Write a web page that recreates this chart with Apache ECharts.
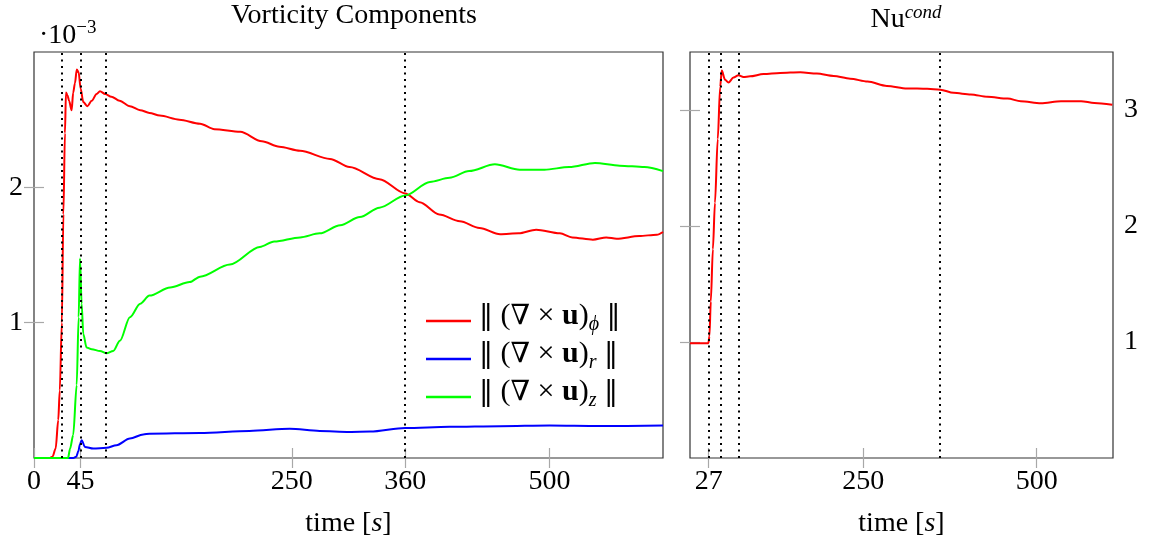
<!DOCTYPE html>
<html>
<head>
<meta charset="utf-8">
<script src="https://cdn.jsdelivr.net/npm/echarts@6/dist/echarts.min.js"></script>
<style>
  html, body { margin: 0; padding: 0; background: #fff; }
  #chart { width: 1155px; height: 544px; }
</style>
</head>
<body>
<div id="chart"></div>
<script>
// Vorticity component norms, in units of 1e-3, against time [s]
const phiTime = [0, 15, 18, 21, 23.5, 25, 27, 28.5, 30, 31, 32.5, 34, 36.5, 38, 39.7, 41.5, 43.3, 45.2, 47.8, 51.7, 56, 60.7, 64, 69, 75, 83, 93, 103, 112, 122, 141, 161, 175, 200, 221, 238, 258, 287, 306, 335, 360, 374, 393, 413, 432, 452, 470, 487, 510, 522, 542, 555, 565, 587, 604, 610];
const phiNorm = [0, 0, 0.01, 0.07, 0.28, 0.5, 1.0, 1.8, 2.4, 2.7, 2.68, 2.64, 2.57, 2.7, 2.77, 2.87, 2.85, 2.73, 2.63, 2.6, 2.64, 2.69, 2.71, 2.69, 2.67, 2.64, 2.6, 2.57, 2.55, 2.53, 2.5, 2.47, 2.43, 2.41, 2.34, 2.3, 2.27, 2.21, 2.15, 2.06, 1.955, 1.89, 1.8, 1.75, 1.7, 1.654, 1.66, 1.687, 1.66, 1.63, 1.613, 1.63, 1.62, 1.64, 1.65, 1.67];

const rTime = [0, 38, 41, 43, 44.5, 46.2, 49.4, 57.5, 70.4, 80, 93, 106, 112, 161, 209, 248, 277, 306, 326, 360, 403, 452, 500, 548, 610];
const rNorm = [0, 0, 0.01, 0.05, 0.1, 0.132, 0.082, 0.07, 0.075, 0.095, 0.144, 0.174, 0.18, 0.185, 0.2, 0.216, 0.2, 0.193, 0.195, 0.222, 0.23, 0.235, 0.24, 0.236, 0.24];

const zTime = [0, 33, 35, 38, 41.4, 43.3, 44.6, 46.2, 47.8, 51, 56, 64, 70.4, 76.8, 83.3, 93, 103, 112, 132, 151, 161, 190, 219, 233, 258, 277, 297, 316, 335, 360, 384, 403, 422, 447, 471, 495, 519, 544, 568, 592, 610];
const zNorm = [0, 0, 0.07, 0.17, 0.54, 1.04, 1.475, 1.14, 0.916, 0.816, 0.804, 0.79, 0.774, 0.79, 0.866, 1.04, 1.14, 1.2, 1.26, 1.3, 1.34, 1.43, 1.56, 1.6, 1.63, 1.66, 1.72, 1.78, 1.85, 1.94, 2.04, 2.07, 2.12, 2.17, 2.13, 2.13, 2.15, 2.18, 2.16, 2.15, 2.12];

// Conductive Nusselt number against time [s]
const nuTime = [0, 26.5, 28, 30, 33, 36, 40, 43.5, 45.8, 50.6, 55.4, 62.7, 69.9, 77, 86.7, 106, 130, 159, 183, 207, 231, 256, 284, 313, 342, 361, 380, 405, 429, 458, 477, 506, 535, 564, 583, 609];
const nuCond = [0.99, 0.99, 1.05, 1.35, 1.8, 2.2, 2.75, 3.2, 3.34, 3.26, 3.236, 3.28, 3.3, 3.285, 3.29, 3.31, 3.32, 3.325, 3.314, 3.294, 3.27, 3.245, 3.207, 3.186, 3.183, 3.175, 3.148, 3.134, 3.114, 3.099, 3.076, 3.058, 3.076, 3.076, 3.061, 3.046];

// Marked instants (dotted verticals) and axis ticks
const eventTimes = [27, 45, 70, 360];
const leftTicksX = [0, 45, 250, 360, 500];
const rightTicksX = [27, 250, 500];
const leftTicksY = [1, 2];
const rightTicksY = [1, 2, 3];

const FONT = '"Liberation Serif", "DejaVu Serif", serif';
const SYM_FONT = '"DejaVu Serif", serif';
const TICK_COLOR = '#a8a8a8';
const zip = (xs, ys) => xs.map((x, i) => [x, ys[i]]);

const legendSub = { omega_phi: 'ϕ', omega_r: 'r', omega_z: 'z' };

const tickStyle = vals => ({
  show: true, inside: true, length: 10, customValues: vals,
  lineStyle: { color: TICK_COLOR, width: 1.2 }
});

const xName = {
  name: '{n|time [}{i|s}{n|]}',
  nameLocation: 'middle',
  nameGap: 52,
  nameTextStyle: {
    rich: {
      n: { fontFamily: FONT, fontSize: 28, color: '#000' },
      i: { fontFamily: FONT, fontSize: 28, fontStyle: 'italic', color: '#000' }
    }
  }
};

function xAxisPair(grid, ticks) {
  const base = {
    type: 'value', gridIndex: grid, min: 0, max: 610,
    axisLine: { show: false }, splitLine: { show: false },
    axisTick: tickStyle(ticks)
  };
  return [
    Object.assign({}, base, xName, {
      position: 'bottom',
      axisLabel: { show: true, customValues: ticks, margin: 10, fontFamily: FONT, fontSize: 28, color: '#000', hideOverlap: false }
    }),
    Object.assign({}, base, {
      position: 'top',
      axisLabel: { show: false, customValues: ticks }
    })
  ];
}

function yAxisPair(grid, ticks, max, labelSide) {
  const base = {
    type: 'value', gridIndex: grid, min: 0, max: max,
    axisLine: { show: false }, splitLine: { show: false },
    axisTick: tickStyle(ticks)
  };
  const other = labelSide === 'left' ? 'right' : 'left';
  return [
    Object.assign({}, base, {
      position: labelSide,
      axisLabel: {
        show: true, customValues: ticks, margin: 11,
        align: labelSide === 'left' ? 'right' : 'left',
        fontFamily: FONT, fontSize: 28, color: '#000'
      }
    }),
    Object.assign({}, base, {
      position: other,
      axisLabel: { show: false, customValues: ticks }
    })
  ];
}

const markLines = {
  silent: true,
  symbol: ['none', 'none'],
  label: { show: false },
  lineStyle: { color: '#000', type: [2, 4.5], width: 2 },
  data: eventTimes.map(t => ({ xAxis: t }))
};

const lineSeries = (name, data, color, xi, yi, extra) => Object.assign({
  name: name, type: 'line', data: data,
  xAxisIndex: xi, yAxisIndex: yi,
  showSymbol: false, symbol: 'none',
  smooth: 0.3, smoothMonotone: 'x',
  lineStyle: { color: color, width: 2 },
  itemStyle: { color: color },
  z: 3
}, extra || {});

const supRich = (italic) => ({
  m: { fontFamily: FONT, fontSize: 28, fontWeight: 'normal', color: '#000', lineHeight: 30, padding: [3, 0, 0, 0], verticalAlign: 'top' },
  s: { fontFamily: FONT, fontSize: 19, fontWeight: 'normal', fontStyle: italic ? 'italic' : 'normal', color: '#000', lineHeight: 20, verticalAlign: 'top' }
});

const chart = echarts.init(document.getElementById('chart'));
chart.setOption({
  animation: false,
  backgroundColor: '#fff',
  textStyle: { fontFamily: FONT },
  title: [
    {
      text: 'Vorticity Components', left: 349, top: -3, textAlign: 'center',
      textStyle: { fontFamily: FONT, fontSize: 28, fontWeight: 'normal', color: '#000' }
    },
    {
      text: '{m|Nu}{s|cond}', left: 901, top: -2, textAlign: 'center',
      textStyle: { fontWeight: 'normal', rich: supRich(true) }
    },
    {
      text: '{m|·10}{s|−3}', left: 34, top: 14,
      textStyle: { fontWeight: 'normal', rich: supRich(false) }
    }
  ],
  grid: [
    { left: 34, top: 52, width: 629, height: 406, show: true, borderColor: '#333', borderWidth: 1.2, backgroundColor: 'transparent' },
    { left: 690, top: 52, width: 423, height: 406, show: true, borderColor: '#333', borderWidth: 1.2, backgroundColor: 'transparent' }
  ],
  xAxis: [...xAxisPair(0, leftTicksX), ...xAxisPair(1, rightTicksX)],
  yAxis: [...yAxisPair(0, leftTicksY, 3, 'left'), ...yAxisPair(1, rightTicksY, 3.5, 'right')],
  legend: {
    data: ['omega_phi', 'omega_r', 'omega_z'],
    orient: 'vertical',
    left: 421, top: 292,
    itemWidth: 45, itemHeight: 2.5, itemGap: 0,
    icon: 'rect',
    selectedMode: false,
    formatter: name => `{d|‖}{m| (}{d|∇}{m| × }{b|u}{m|)}{s|${legendSub[name]}}{m| }{d|‖}`,
    textStyle: {
      padding: [0, 0, 0, 3],
      rich: {
        d: { fontFamily: SYM_FONT, fontSize: 28, color: '#000', lineHeight: 28, padding: [4, 0, 4, 0], verticalAlign: 'bottom' },
        m: { fontFamily: FONT, fontSize: 30, color: '#000', lineHeight: 28, padding: [4, 0, 4, 0], verticalAlign: 'bottom' },
        b: { fontFamily: FONT, fontSize: 30, fontWeight: 'bold', color: '#000', lineHeight: 28, padding: [4, 0, 4, 0], verticalAlign: 'bottom' },
        s: { fontFamily: FONT, fontSize: 20, fontStyle: 'italic', color: '#000', lineHeight: 18, verticalAlign: 'bottom' }
      }
    }
  },
  series: [
    lineSeries('omega_phi', zip(phiTime, phiNorm), '#ff0000', 0, 0, { markLine: markLines }),
    lineSeries('omega_r', zip(rTime, rNorm), '#0000ff', 0, 0),
    lineSeries('omega_z', zip(zTime, zNorm), '#00ff00', 0, 0),
    lineSeries('Nu_cond', zip(nuTime, nuCond), '#ff0000', 2, 2, { markLine: markLines })
  ]
});
</script>
</body>
</html>
